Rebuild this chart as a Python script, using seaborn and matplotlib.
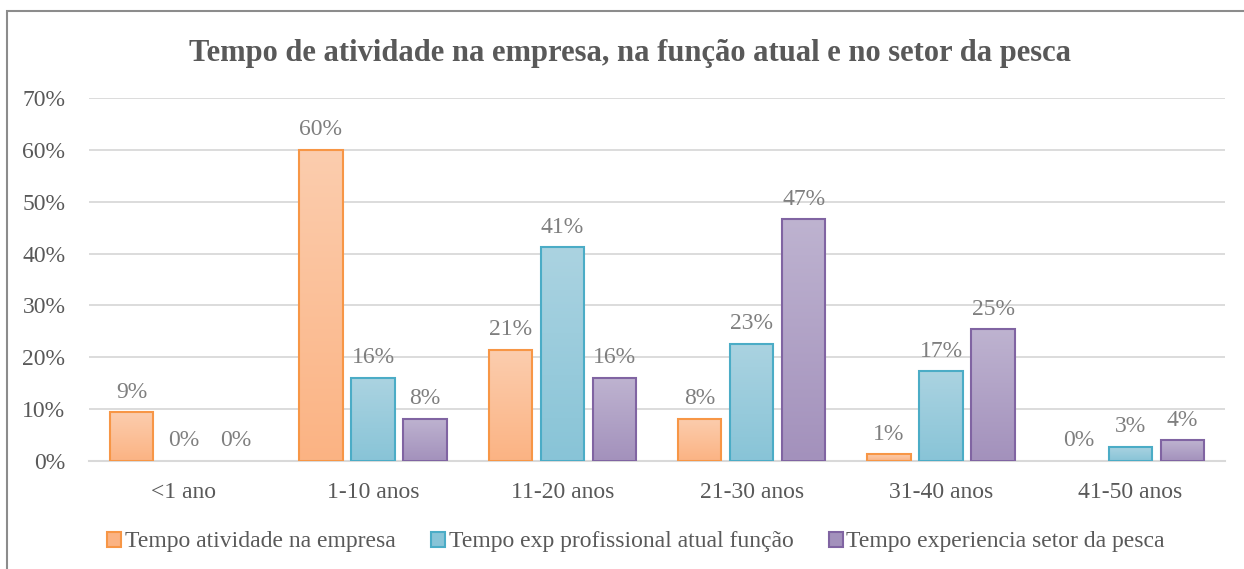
import numpy as np
import pandas as pd
import matplotlib
matplotlib.use("Agg")
import matplotlib.pyplot as plt
import seaborn as sns
from matplotlib.patches import Patch, Rectangle
from matplotlib.colors import LinearSegmentedColormap

# data
categories = ['<1 ano', '1-10 anos', '11-20 anos', '21-30 anos', '31-40 anos', '41-50 anos']
series_names = ['Tempo atividade na empresa',
                'Tempo exp profissional atual função',
                'Tempo experiencia setor da pesca']
empresa = [9.4, 60.0, 21.4, 8.1, 1.3, 0.0]
funcao = [0.0, 16.0, 41.2, 22.6, 17.3, 2.7]
pesca = [0.0, 8.1, 16.0, 46.6, 25.4, 4.0]

# colours: (top of gradient, bottom of gradient, edge)
colors = {
    series_names[0]: ('#FCCDAE', '#FBB383', '#F79646'),
    series_names[1]: ('#ABD3E1', '#88C4D7', '#4BACC6'),
    series_names[2]: ('#BEB3D0', '#A391BC', '#8064A2'),
}

df = pd.DataFrame({
    'Categoria': categories * 3,
    'Serie': np.repeat(series_names, len(categories)),
    'Valor': empresa + funcao + pesca,
})

sns.set_style('white')
plt.rcParams['font.family'] = ['Liberation Serif', 'DejaVu Serif']

fig = plt.figure(figsize=(12.44, 5.69), dpi=100)
ax = fig.add_axes([89 / 1244, 1 - 461 / 569, (1225 - 89) / 1244, (461 - 98) / 569])

palette = {k: v[1] for k, v in colors.items()}
sns.barplot(data=df, x='Categoria', y='Valor', hue='Serie', order=categories,
            hue_order=series_names, palette=palette, width=0.824, gap=0.17,
            legend=False, ax=ax, zorder=3)

# gradient fill + border for each bar
grad = np.linspace(0, 1, 256).reshape(-1, 1)
for cont, name in zip(ax.containers, series_names):
    top, bottom, edge = colors[name]
    cmap = LinearSegmentedColormap.from_list(name, [bottom, top])
    for bar in cont:
        bar.set_edgecolor(edge)
        bar.set_linewidth(1.5)
        x0, w, h = bar.get_x(), bar.get_width(), bar.get_height()
        if h <= 0:
            bar.set_visible(False)
            continue
        bar.set_facecolor('none')
        im = ax.imshow(grad, cmap=cmap, aspect='auto', origin='lower',
                       extent=(x0, x0 + w, 0, h), zorder=2.5,
                       interpolation='bilinear')
        im.set_clip_path(bar)
    ax.bar_label(cont, labels=[f'{v:.0f}%' for v in cont.datavalues],
                 padding=7, fontsize=17, color='#7F7F7F')

ax.set_xlim(-0.5, len(categories) - 0.5)
ax.set_ylim(0, 70)
ax.set_yticks(range(0, 71, 10))
ax.set_yticklabels([f'{t}%' for t in range(0, 71, 10)])
ax.yaxis.grid(True, color='#D9D9D9', linewidth=1.3, zorder=0)
ax.set_axisbelow(True)
for s in ['top', 'right', 'left']:
    ax.spines[s].set_visible(False)
ax.spines['bottom'].set_color('#D9D9D9')
ax.spines['bottom'].set_linewidth(1.5)
ax.tick_params(axis='both', length=0, labelsize=17, labelcolor='#595959')
ax.tick_params(axis='x', pad=15)
ax.tick_params(axis='y', pad=17)
ax.set_xlabel('')
ax.set_ylabel('')

fig.text(630 / 1244, 1 - 54 / 569, 'Tempo de atividade na empresa, na função atual e no setor da pesca',
         ha='center', va='center', fontsize=22, fontweight='bold', color='#595959')

handles = [Patch(facecolor=colors[n][1], edgecolor=colors[n][2], linewidth=1.5) for n in series_names]
fig.legend(handles, series_names, loc='center', bbox_to_anchor=(636 / 1244, 1 - 542 / 569),
           ncol=3, frameon=False, fontsize=17, labelcolor='#595959',
           handlelength=0.6, handleheight=0.6, handletextpad=0.15, columnspacing=1.5)

fig.patches.append(Rectangle((7 / 1244, -0.1), 1.2, 1 - 11 / 569 + 0.1,
                             transform=fig.transFigure, fill=False,
                             edgecolor='#8C8C8C', linewidth=1.5))

fig.savefig('out.png', dpi=100)
